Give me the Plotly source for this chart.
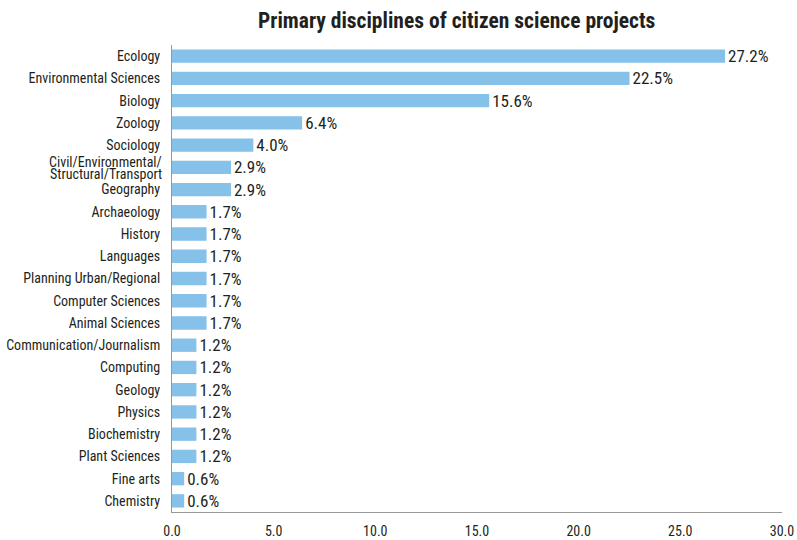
import plotly.graph_objects as go

categories = ["Ecology", "Environmental Sciences", "Biology", "Zoology", "Sociology",
              "Civil/Environmental/Structural/Transport", "Geography", "Archaeology",
              "History", "Languages", "Planning Urban/Regional", "Computer Sciences",
              "Animal Sciences", "Communication/Journalism", "Computing", "Geology",
              "Physics", "Biochemistry", "Plant Sciences", "Fine arts", "Chemistry"]
values = [27.2, 22.5, 15.6, 6.4, 4.0, 2.9, 2.9, 1.7, 1.7, 1.7, 1.7, 1.7, 1.7,
          1.2, 1.2, 1.2, 1.2, 1.2, 1.2, 0.6, 0.6]
civil_lines = ["Civil/Environmental/", "Structural/Transport"]
x_ticks = [0, 5, 10, 15, 20, 25, 30]
x_tick_labels = ["0.0", "5.0", "10.0", "15.0", "20.0", "25.0", "30.0"]

FONT = "Roboto Condensed, Liberation Sans Narrow, DejaVu Sans Condensed, Roboto, sans-serif"
TXT = "#231f20"
CIVIL = categories[5]

y_ticktext = ["" if c == CIVIL else c for c in categories]

fig = go.Figure(go.Bar(
    x=values, y=categories, orientation="h",
    marker=dict(color="#85c1e9", line=dict(width=0)),
    width=0.6,
    text=[f"{v:.1f}%" for v in values], textposition="outside",
    constraintext="none",
    textfont=dict(size=17, color=TXT, family=FONT),
    cliponaxis=False,
))

for line, shift in zip(civil_lines, [5.5, -6.5]):
    fig.add_annotation(text=line, xref="paper", x=0, xanchor="right", xshift=-8,
                       yref="y", y=CIVIL, yanchor="middle", yshift=shift,
                       showarrow=False, font=dict(size=14, color=TXT, family=FONT))

fig.update_layout(
    width=797, height=540,
    margin=dict(l=172, r=15, t=45, b=28),
    paper_bgcolor="white", plot_bgcolor="white",
    font=dict(family=FONT, color=TXT, size=14),
    showlegend=False,
    title=dict(text="<b>Primary disciplines of citizen science projects</b>",
               x=0.573, xanchor="center", y=0.963, yanchor="middle",
               font=dict(size=21.5, color=TXT, family=FONT)),
    xaxis=dict(range=[0, 30], tickvals=x_ticks, ticktext=x_tick_labels,
               showgrid=False, zeroline=False, showline=True, linecolor="#999999",
               linewidth=1, ticks="", tickfont=dict(size=14, color=TXT),
               ticklabelstandoff=6, automargin=False),
    yaxis=dict(range=[20.5, -0.5], tickvals=categories, ticktext=y_ticktext,
               showgrid=False, zeroline=False,
               showline=True, linecolor="#999999", linewidth=1, ticks="",
               tickfont=dict(size=14, color=TXT), ticklabelstandoff=8, automargin=False),
)

fig.write_html("out.html", config={"displayModeBar": False},
               post_script="document.body.style.margin='0px';document.body.style.overflow='hidden';")
